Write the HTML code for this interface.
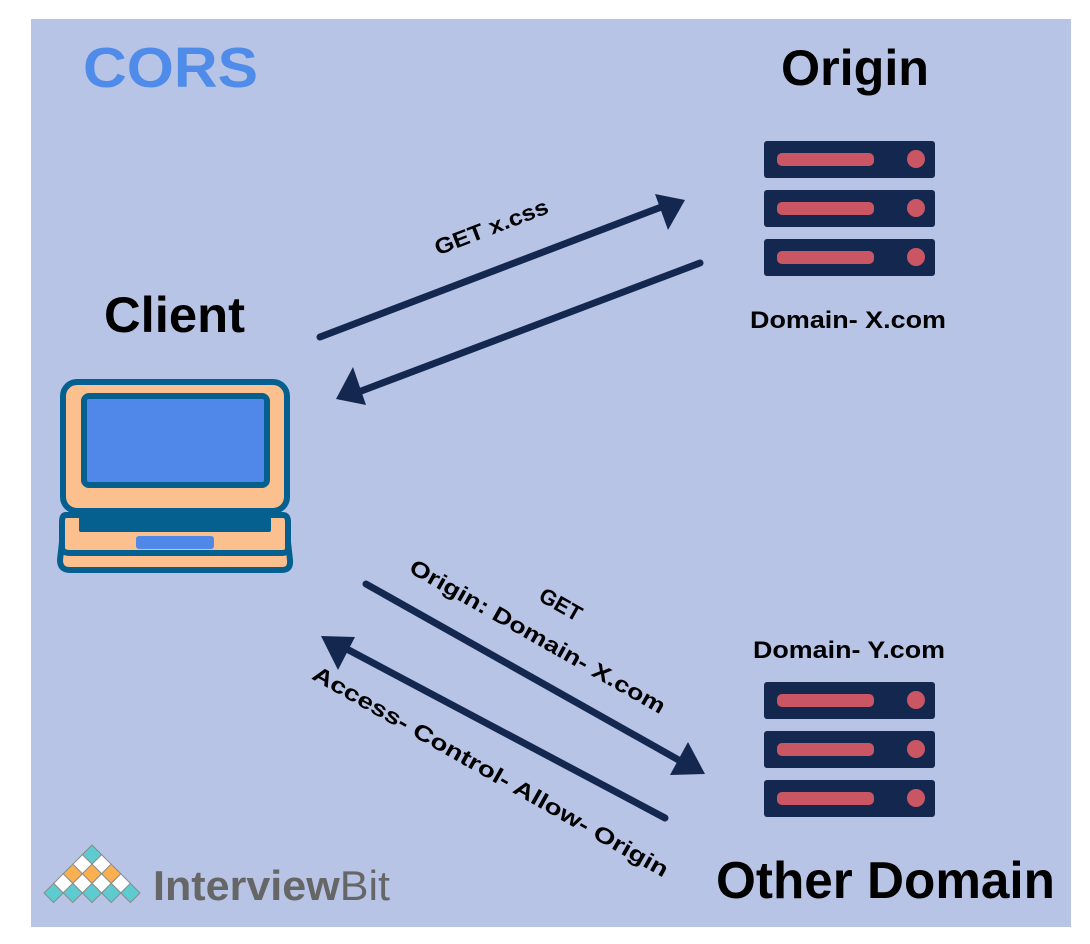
<!DOCTYPE html>
<html><head><meta charset="utf-8"><style>html,body{margin:0;padding:0;background:#fff}svg{display:block}</style></head>
<body>
<svg width="1090" height="944" viewBox="0 0 1090 944" xmlns="http://www.w3.org/2000/svg" font-family="Liberation Sans, sans-serif">
<rect x="31" y="19" width="1040" height="908" fill="#b7c4e6"/>
<text x="83" y="87" font-size="57" font-weight="bold" fill="#4f8be8" textLength="175" lengthAdjust="spacingAndGlyphs">CORS</text>
<text x="781" y="85" font-size="50" font-weight="bold" fill="#000" textLength="148" lengthAdjust="spacingAndGlyphs">Origin</text>
<text x="104" y="332" font-size="50" font-weight="bold" fill="#000" textLength="141" lengthAdjust="spacingAndGlyphs">Client</text>
<text x="750" y="328" font-size="24" font-weight="bold" fill="#000" textLength="196" lengthAdjust="spacingAndGlyphs">Domain- X.com</text>
<text x="753" y="658" font-size="24" font-weight="bold" fill="#000" textLength="192" lengthAdjust="spacingAndGlyphs">Domain- Y.com</text>
<text x="716" y="898" font-size="52" font-weight="bold" fill="#000" textLength="339" lengthAdjust="spacingAndGlyphs">Other Domain</text>
<g fill="#14284f">
<rect x="764" y="141" width="171" height="37" rx="3"/><rect x="764" y="190" width="171" height="37" rx="3"/><rect x="764" y="239" width="171" height="37" rx="3"/>
<rect x="764" y="682" width="171" height="37" rx="3"/><rect x="764" y="731" width="171" height="37" rx="3"/><rect x="764" y="780" width="171" height="37" rx="3"/>
</g>
<g fill="#cb5663">
<rect x="777" y="153" width="97" height="13" rx="5"/><circle cx="916" cy="159" r="9"/>
<rect x="777" y="202" width="97" height="13" rx="5"/><circle cx="916" cy="208" r="9"/>
<rect x="777" y="251" width="97" height="13" rx="5"/><circle cx="916" cy="257" r="9"/>
<rect x="777" y="694" width="97" height="13" rx="5"/><circle cx="916" cy="700" r="9"/>
<rect x="777" y="743" width="97" height="13" rx="5"/><circle cx="916" cy="749" r="9"/>
<rect x="777" y="792" width="97" height="13" rx="5"/><circle cx="916" cy="798" r="9"/>
</g>
<!-- laptop -->
<g stroke="#05608f" stroke-width="6" stroke-linejoin="round">
<path d="M64 524 L60 560 Q60 570 70 570 L282 570 Q291 570 290 560 L286 524 Z" fill="#fbc08e"/>
<path d="M66 515 Q62 515 62 522 L62 548 Q62 553 70 553 L282 553 Q288 553 288 548 L288 522 Q288 515 283 515 Z" fill="#fbc08e"/>
<rect x="63" y="382" width="224" height="129" rx="14" fill="#fbc08e"/>
<rect x="84" y="396" width="183" height="89" rx="5" fill="#4f88e8"/>
</g>
<rect x="79" y="517" width="192" height="15" rx="2" fill="#05608f"/>
<rect x="136" y="536" width="78" height="13" rx="3" fill="#4f88e8"/>
<!-- arrows -->
<g stroke="#14284f" stroke-width="7" stroke-linecap="round" fill="none">
<line x1="320" y1="337" x2="664" y2="206"/>
<line x1="700" y1="263" x2="356" y2="393"/>
<line x1="366" y1="584" x2="684" y2="763"/>
<line x1="665" y1="818" x2="343" y2="647"/>
</g>
<g fill="#14284f">
<polygon points="685,200 655,194 668,230"/>
<polygon points="336,399 353,367 366,405"/>
<polygon points="705,774 688,742 670,775"/>
<polygon points="321,636 355,637 338,670"/>
</g>
<g font-size="22" font-weight="bold" fill="#000">
<text transform="translate(494,234) rotate(-21)" text-anchor="middle" textLength="120" lengthAdjust="spacingAndGlyphs">GET x.css</text>
<text transform="translate(557,611) rotate(29.5)" text-anchor="middle">GET</text>
<text transform="translate(534,643) rotate(29.5)" text-anchor="middle" textLength="290" lengthAdjust="spacingAndGlyphs">Origin: Domain- X.com</text>
<text transform="translate(487,778) rotate(29.5)" text-anchor="middle" textLength="405" lengthAdjust="spacingAndGlyphs">Access-  Control- Allow- Origin</text>
</g>
<!-- logo -->
<g stroke="#8a8a8a" stroke-width="1">
<g id="d"></g>
<polygon points="92,845 101.6,854.6 92,864.2 82.4,854.6" fill="#5ecbd0"/>
<polygon points="82.4,854.6 92,864.2 82.4,873.8 72.8,864.2" fill="#fff"/>
<polygon points="101.6,854.6 111.2,864.2 101.6,873.8 92,864.2" fill="#fff"/>
<polygon points="72.8,864.2 82.4,873.8 72.8,883.4 63.2,873.8" fill="#fbb04f"/>
<polygon points="92,864.2 101.6,873.8 92,883.4 82.4,873.8" fill="#fbb04f"/>
<polygon points="111.2,864.2 120.8,873.8 111.2,883.4 101.6,873.8" fill="#fbb04f"/>
<polygon points="63.2,873.8 72.8,883.4 63.2,893 53.6,883.4" fill="#fff"/>
<polygon points="82.4,873.8 92,883.4 82.4,893 72.8,883.4" fill="#fff"/>
<polygon points="101.6,873.8 111.2,883.4 101.6,893 92,883.4" fill="#fff"/>
<polygon points="120.8,873.8 130.4,883.4 120.8,893 111.2,883.4" fill="#fff"/>
<polygon points="53.6,883.4 63.2,893 53.6,902.6 44,893" fill="#5ecbd0"/>
<polygon points="72.8,883.4 82.4,893 72.8,902.6 63.2,893" fill="#5ecbd0"/>
<polygon points="92,883.4 101.6,893 92,902.6 82.4,893" fill="#5ecbd0"/>
<polygon points="111.2,883.4 120.8,893 111.2,902.6 101.6,893" fill="#5ecbd0"/>
<polygon points="130.4,883.4 140,893 130.4,902.6 120.8,893" fill="#5ecbd0"/>
</g>
<text x="153" y="900" font-size="42" fill="#666" textLength="237" lengthAdjust="spacingAndGlyphs"><tspan font-weight="bold">Interview</tspan>Bit</text>
</svg>
</body></html>
